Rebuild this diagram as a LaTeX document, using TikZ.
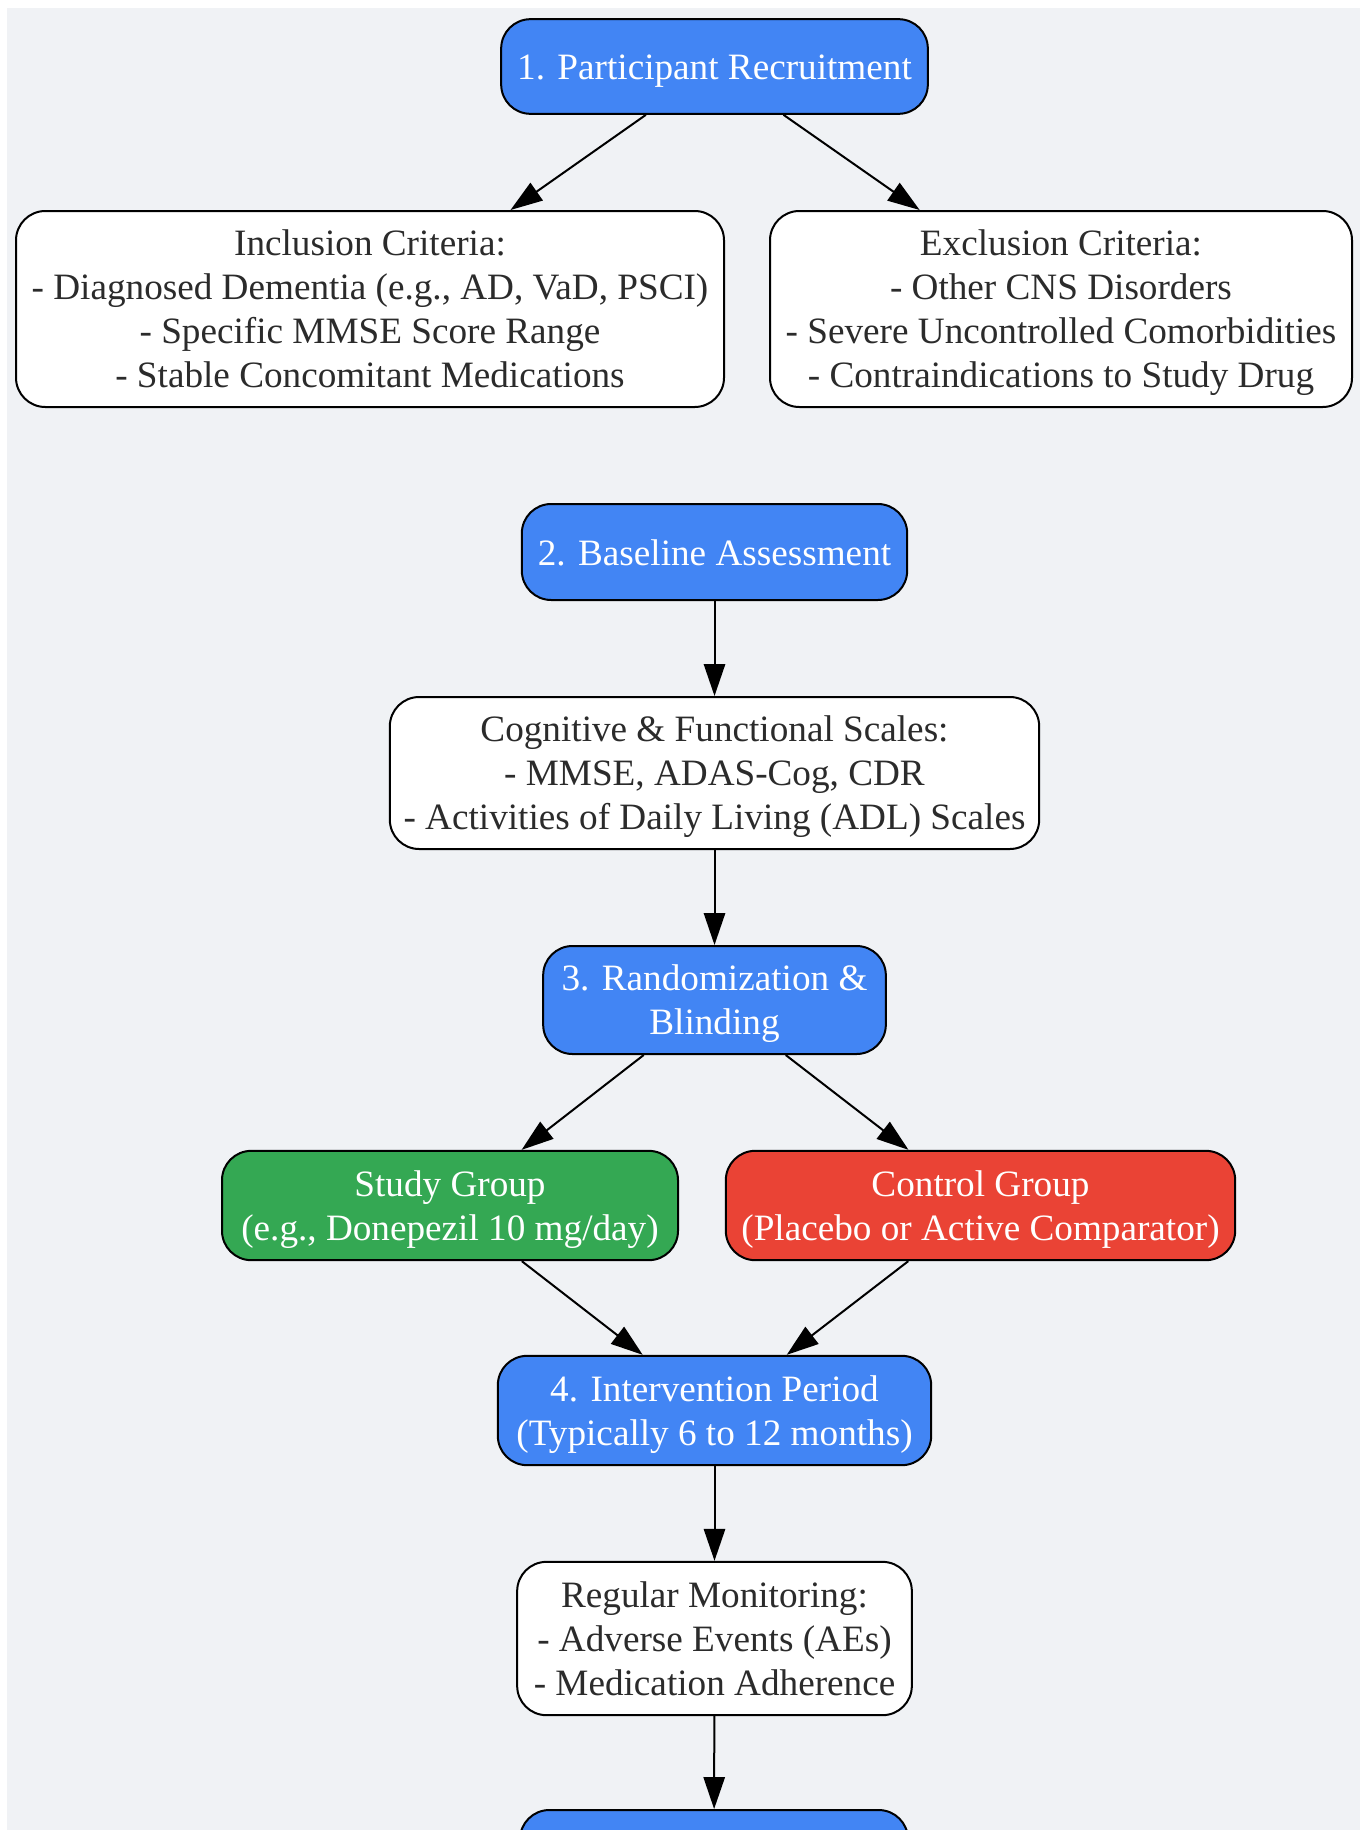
\documentclass[tikz,border=0pt]{standalone}
\usepackage{fontspec}
\setmainfont{Liberation Serif}
\usetikzlibrary{arrows.meta}

\definecolor{bgcol}{HTML}{F0F2F5}
\definecolor{stepblue}{HTML}{4285F4}
\definecolor{grpgreen}{HTML}{34A853}
\definecolor{grpred}{HTML}{EA4335}
\definecolor{txtgray}{HTML}{2B2B2B}

\newcommand{\tstrut}{\rule[-6.4pt]{0pt}{33pt}}

\tikzset{every picture/.style={line width=1.5pt},
  box/.style={draw=black, rounded corners=22pt, align=center, inner sep=0pt,
    font=\fontsize{27.9}{33}\selectfont,
    execute at begin node=\tstrut, execute at end node=\tstrut},
  multiline/.style={text depth=-3.6pt},
  stepbox/.style={box, fill=stepblue, text=white},
  infobox/.style={box, fill=white, text=txtgray},
  studybox/.style={box, fill=grpgreen, text=white},
  ctrlbox/.style={box, fill=grpred, text=white},
  arr/.style={-{Triangle[length=24pt,width=16pt]}}
}

\begin{document}
\begin{tikzpicture}[x=0.75pt,y=0.75pt,yscale=-1,xscale=1]
\useasboundingbox (0,0) rectangle (1360,1830);
\clip (0,0) rectangle (1360,1830);
%Background
\fill [bgcol] (7,8) rectangle (1360,1830);

% Step 1
\node [stepbox, minimum width=320pt, minimum height=71pt] (recruit) at (714.5,66.5) {1. Participant Recruitment};
% Criteria
\node [infobox, multiline, minimum width=531pt, minimum height=147pt] (incl) at (370,309) {Inclusion Criteria:\\- Diagnosed Dementia (e.g., AD, VaD, PSCI)\\- Specific MMSE Score Range\\- Stable Concomitant Medications};
\node [infobox, multiline, minimum width=436.5pt, minimum height=147pt] (excl) at (1061,309) {Exclusion Criteria:\\- Other CNS Disorders\\- Severe Uncontrolled Comorbidities\\- Contraindications to Study Drug};

% Step 2
\node [stepbox, minimum width=289pt, minimum height=72pt] (baseline) at (714.5,552) {2. Baseline Assessment};
\node [infobox, multiline, minimum width=487pt, minimum height=114pt] (scales) at (714.5,773) {Cognitive \& Functional Scales:\\- MMSE, ADAS-Cog, CDR\\- Activities of Daily Living (ADL) Scales};

% Step 3
\node [stepbox, multiline, minimum width=257pt, minimum height=81pt] (random) at (714.5,1000) {3. Randomization \&\\Blinding};
\node [studybox, multiline, minimum width=342pt, minimum height=82pt] (study) at (450,1205.5) {Study Group\\(e.g., Donepezil 10 mg/day)};
\node [ctrlbox, multiline, minimum width=382pt, minimum height=82pt] (control) at (980.5,1205.5) {Control Group\\(Placebo or Active Comparator)};

% Step 4
\node [stepbox, multiline, minimum width=325pt, minimum height=82pt] (interv) at (714.5,1410.5) {4. Intervention Period\\(Typically 6 to 12 months)};
\node [infobox, multiline, minimum width=296pt, minimum height=115pt] (monitor) at (714.5,1638.5) {Regular Monitoring:\\- Adverse Events (AEs)\\- Medication Adherence};

% next step (cut off)
\node [stepbox, minimum width=291pt, minimum height=72pt] (nextstep) at (714,1858) {};

%Arrows
\draw [arr] (recruit) -- (incl);
\draw [arr] (recruit) -- (excl);
\draw [arr] (baseline) -- (scales);
\draw [arr] (scales) -- (random);
\draw [arr] (random) -- (study);
\draw [arr] (random) -- (control);
\draw [arr] (study) -- (interv);
\draw [arr] (control) -- (interv);
\draw [arr] (interv) -- (monitor);
\draw [arr] (monitor) -- (nextstep);
\end{tikzpicture}
\end{document}
